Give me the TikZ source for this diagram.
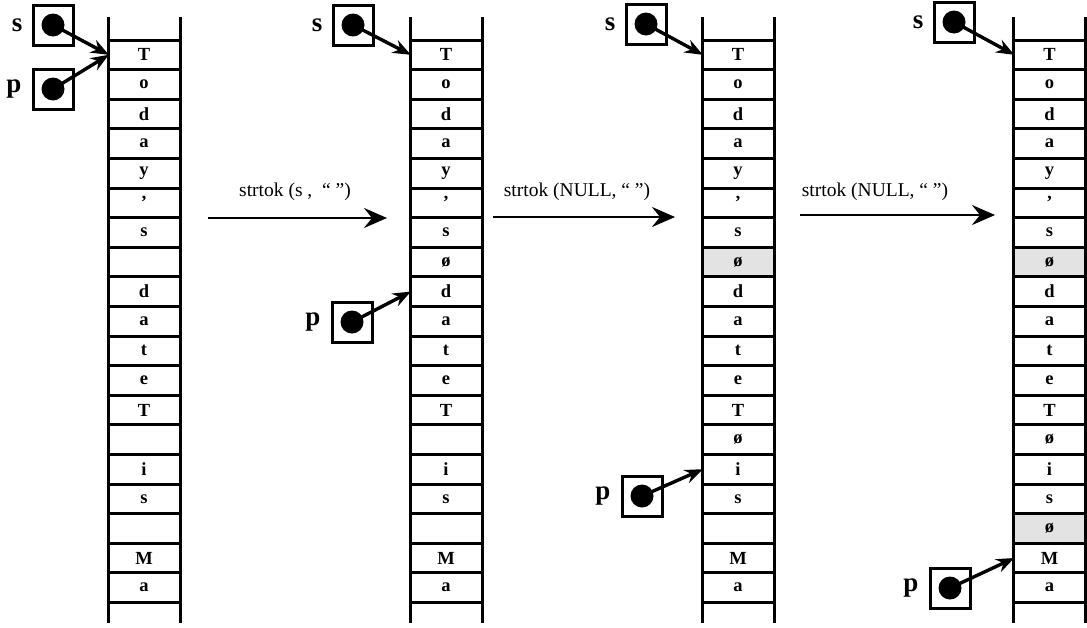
\documentclass[tikz,border=0pt]{standalone}
\usepackage{fontspec}
\setmainfont{Liberation Serif}
\usetikzlibrary{positioning,arrows.meta}

\begin{document}
\begin{tikzpicture}[x=1pt,y=-1pt,
    rail/.style={line width=3pt},
    sep/.style={line width=3pt},
    cell/.style={minimum width=70pt,minimum height=29pt,inner sep=0pt,
        font=\fontsize{18.5}{18.5}\selectfont\bfseries},
    nulcell/.style={fill=gray!22},
    ptrbox/.style={draw,line width=3pt,minimum size=40pt,inner sep=0pt},
    dot/.style={circle,fill,minimum size=23pt,inner sep=0pt},
    ptrname/.style={font=\fontsize{27}{27}\selectfont\bfseries,inner sep=0pt},
    ptr/.style={line width=3.4pt,-{Stealth[length=18pt,width=14pt,inset=6pt]}},
    call/.style={line width=2.8pt,-{Stealth[length=23pt,width=20pt,inset=8pt]}},
    calllbl/.style={font=\fontsize{19.5}{19.5}\selectfont,inner sep=0pt}]
\useasboundingbox (0,0) rectangle (1087,627);
% shaded null cells
\foreach \x/\k in {702/7,1013.5/7,1013.5/16}
    \fill[nulcell] (\x,40+29.6*\k) rectangle ++(72,29.6);
% the four copies of the string
\foreach \n/\x/\txt in {1/108/{T,o,d,a,y,',s,{},d,a,t,e,T,{},i,s,{},M,a},
                        2/410/{T,o,d,a,y,',s,ø,d,a,t,e,T,{},i,s,{},M,a},
                        3/702/{T,o,d,a,y,',s,ø,d,a,t,e,T,ø,i,s,{},M,a},
                        4/1013.5/{T,o,d,a,y,',s,ø,d,a,t,e,T,ø,i,s,ø,M,a}}{%
    \draw[rail] (\x,17) -- (\x,623);
    \draw[rail] (\x+72,17) -- (\x+72,623);
    \foreach \k in {0,...,19}
        \draw[sep] (\x,40+29.6*\k) -- (\x+72,40+29.6*\k);
    \foreach \ch [count=\k from 0] in \txt
        \node[cell] (c\n-\k) at (\x+36,54.8+29.6*\k) {\ch};
}
% pointer s
\foreach \n/\sx/\sy in {1/53/25,2/353/25,3/646/24,4/954/22}{%
    \node[ptrbox] (sbox\n) at (\sx,\sy) {};
    \node[dot] (sdot\n) at (sbox\n) {};
    \node[ptrname,left=9pt of sbox\n] (sname\n) {s};
    \draw[ptr] (sdot\n.center) -- (c\n-0.west);
}
% pointer p
\foreach \n/\px/\py/\row in {1/53/89/0,2/352/322/8,3/642/496/14,4/950/588/17}{%
    \node[ptrbox] (pbox\n) at (\px,\py) {};
    \node[dot] (pdot\n) at (pbox\n) {};
    \node[ptrname,left=10pt of pbox\n] (pname\n) {p};
    \draw[ptr] (pdot\n.center) -- (c\n-\row.west);
}
% the calls
\coordinate (go1a) at (208,218);
\coordinate (go1b) at (387,218);
\coordinate (go2a) at (493,217);
\coordinate (go2b) at (675,217);
\coordinate (go3a) at (800,215);
\coordinate (go3b) at (995,215);
\draw[call] (go1a) -- (go1b);
\draw[call] (go2a) -- (go2b);
\draw[call] (go3a) -- (go3b);
\node[calllbl] (call1) at (295,192) {strtok (s ,\ \ “ ”)};
\node[calllbl] (call2) at (577,192) {strtok (NULL, “ ”)};
\node[calllbl] (call3) at (875,192) {strtok (NULL, “ ”)};
\end{tikzpicture}
\end{document}
